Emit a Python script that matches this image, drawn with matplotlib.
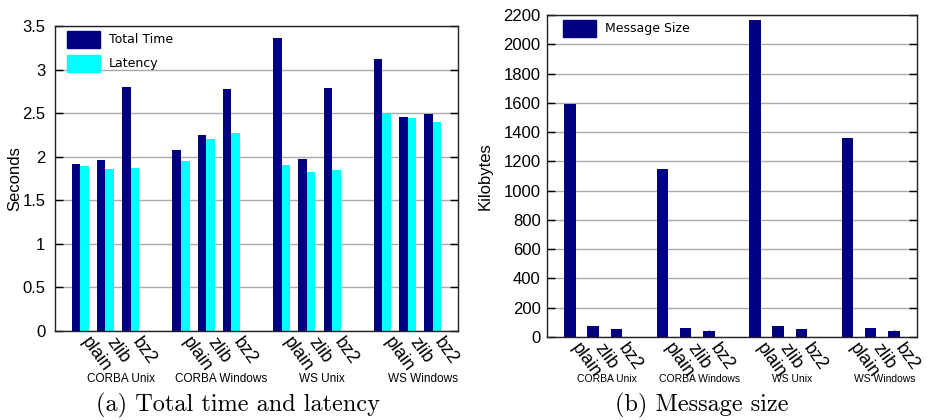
import numpy as np
from matplotlib import pyplot as plt
from matplotlib.patches import Patch
from matplotlib.transforms import ScaledTranslation

groups = ["CORBA Unix", "CORBA Windows", "WS Unix", "WS Windows"]
codecs = ["plain", "zlib", "bz2"]

# seconds, per group: plain, zlib, bz2
total_time = [1.92, 1.96, 2.80,
              2.08, 2.25, 2.78,
              3.36, 1.97, 2.79,
              3.12, 2.46, 2.49]
latency = [1.89, 1.86, 1.87,
           1.95, 2.20, 2.27,
           1.90, 1.82, 1.85,
           2.49, 2.44, 2.40]

# kilobytes
msg_size = [1595, 75, 55,
            1145, 61, 41,
            2165, 75, 55,
            1360, 61, 41]

navy = "#000080"
cyan = "#00ffff"

plt.rcParams['font.family'] = ['Liberation Sans', 'DejaVu Sans']

fig = plt.figure(figsize=(9.28, 4.2), dpi=100)

# slot positions: 3 bars per group, one empty slot between groups
pos = np.array([g * 4 + k for g in range(len(groups)) for k in range(len(codecs))])
labels = codecs * len(groups)


def _style(ax, yticks, yticklabels, ypad):
    ax.set_axisbelow(True)
    ax.set_xlim(-1, 15)
    ax.set_yticks(yticks)
    ax.set_yticklabels(yticklabels, fontsize=12)
    ax.yaxis.grid(True, color="#aaaaaa", linewidth=1)
    ax.tick_params(axis='y', direction='in', length=6, width=1, left=True, right=True, pad=ypad)
    ax.tick_params(axis='x', direction='in', length=5, width=1)
    for s in ax.spines.values():
        s.set_color("#222222")
        s.set_linewidth(1)
    ax.set_xticks(pos)
    ax.set_xticklabels([])
    # rotated codec labels, hung just right of each tick
    off = ax.get_xaxis_transform() + ScaledTranslation(8.5 / 72, -2.5 / 72, fig.dpi_scale_trans)
    for p, lab in zip(pos, labels):
        ax.text(p, 0, lab, transform=off, rotation=-54, ha='left', va='top',
                rotation_mode='anchor', fontsize=13)


def _group_labels(ax, y, size):
    for g, name in enumerate(groups):
        ax.text(g * 4 + 1.6, y, name, transform=ax.get_xaxis_transform(),
                ha='center', va='center', fontsize=size)


def _legend(ax, handles, x):
    ax.legend(handles=handles, loc='upper left', frameon=False,
              prop={'family': 'DejaVu Sans', 'size': 9},
              handlelength=2.65, handleheight=1.7, handletextpad=0.7,
              labelspacing=0.55, borderaxespad=0.0, borderpad=0.4,
              bbox_to_anchor=(x, 1.0))


# (a) total time and latency
ax1 = fig.add_axes([0.0593, 0.2119, 0.4343, 0.7262])
w = 0.34
ax1.bar(pos - w / 2, total_time, w, color=navy, linewidth=0)
ax1.bar(pos + w / 2, latency, w, color=cyan, linewidth=0)
ax1.set_ylim(0, 3.5)
yt = np.arange(0, 3.51, 0.5)
_style(ax1, yt, ["{:g}".format(v) for v in yt], 7)
ax1.set_ylabel("Seconds", fontsize=12)
ax1.yaxis.set_label_coords(-0.082, 0.5)
_group_labels(ax1, -0.157, 8.5)
_legend(ax1, [Patch(color=navy, label="Total Time"),
              Patch(color=cyan, label="Latency")], 0.017)

# (b) message size
ax2 = fig.add_axes([0.5894, 0.1976, 0.3987, 0.7667])
ax2.bar(pos, msg_size, 0.5, color=navy, linewidth=0)
ax2.set_ylim(0, 2200)
yt2 = np.arange(0, 2201, 200)
_style(ax2, yt2, [str(v) for v in yt2], 4.5)
ax2.set_ylabel("Kilobytes", fontsize=12)
ax2.yaxis.set_label_coords(-0.146, 0.5)
_group_labels(ax2, -0.13, 7.5)
_legend(ax2, [Patch(color=navy, label="Message Size")], 0.03)

# captions
fig.text(238 / 928, 1 - 405 / 420, "(a) Total time and latency", ha='center', va='center',
         fontsize=17.5, family='cmr10')
fig.text(702 / 928, 1 - 405 / 420, "(b) Message size", ha='center', va='center',
         fontsize=17.5, family='cmr10')

plt.savefig("out.png", dpi=100)
